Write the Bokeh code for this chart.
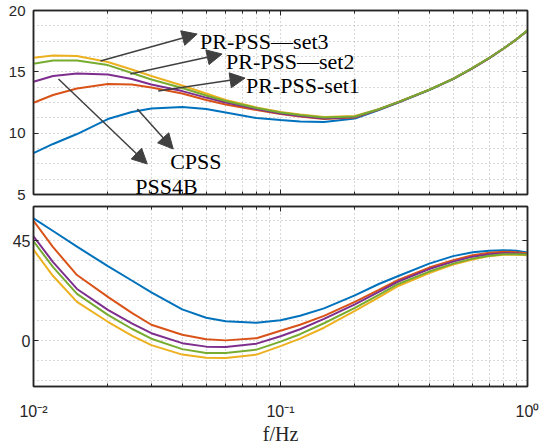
from bokeh.plotting import figure
from bokeh.layouts import column
from bokeh.models import FixedTicker, LinearAxis, LogAxis, Range1d, Arrow, NormalHead, Label
from bokeh.embed import file_html
from bokeh.resources import INLINE

freq = [0.01, 0.012, 0.015, 0.02, 0.025, 0.03, 0.04, 0.05, 0.06, 0.08, 0.1, 0.12,
        0.15, 0.2, 0.25, 0.3, 0.4, 0.5, 0.6, 0.7, 0.8, 0.9, 1.0]

# top panel (gain)
mag_cpss = [8.38, 9.12, 9.93, 11.15, 11.72, 12.01, 12.13, 11.97, 11.68, 11.23, 11.07, 10.95,
            10.91, 11.19, 11.89, 12.5, 13.52, 14.41, 15.31, 16.12, 16.9, 17.63, 18.37]
mag_set1 = [12.48, 13.11, 13.64, 14.01, 13.97, 13.72, 13.23, 12.7, 12.33, 11.89, 11.56, 11.36,
            11.15, 11.28, 11.93, 12.52, 13.53, 14.42, 15.31, 16.12, 16.9, 17.63, 18.37]
mag_pss4b = [14.19, 14.66, 14.86, 14.78, 14.41, 13.97, 13.43, 12.9, 12.5, 11.97, 11.6, 11.4,
             11.19, 11.32, 11.93, 12.52, 13.53, 14.42, 15.31, 16.12, 16.9, 17.63, 18.37]
mag_set2 = [15.66, 15.92, 15.92, 15.55, 14.9, 14.37, 13.68, 13.07, 12.62, 12.05, 11.68, 11.48,
            11.28, 11.36, 11.95, 12.53, 13.54, 14.43, 15.32, 16.13, 16.9, 17.63, 18.38]
mag_set3 = [16.15, 16.33, 16.29, 15.8, 15.19, 14.66, 13.88, 13.23, 12.7, 12.09, 11.72, 11.52,
            11.32, 11.4, 11.96, 12.54, 13.55, 14.43, 15.32, 16.13, 16.9, 17.63, 18.38]

# bottom panel (phase)
ph_cpss = [54.97, 49.29, 42.23, 33.52, 27.04, 21.67, 14.08, 10.28, 8.71, 8.04, 9.16, 11.17,
           14.52, 20.33, 25.47, 29.05, 34.63, 37.99, 39.77, 40.44, 40.67, 40.44, 39.64]
ph_set1 = [53.85, 42.01, 29.5, 19.66, 12.51, 7.15, 2.68, 0.67, 0.13, 1.12, 4.47, 7.15,
           11.17, 17.43, 22.79, 27.26, 32.85, 36.2, 38.43, 39.55, 40.0, 39.77, 39.33]
ph_pss4b = [46.92, 35.31, 23.24, 13.85, 7.82, 3.35, -1.12, -2.68, -2.9, -1.34, 2.01, 5.14,
            9.83, 16.31, 21.9, 26.59, 32.18, 35.53, 37.76, 38.88, 39.33, 39.19, 38.88]
ph_set2 = [44.69, 33.07, 21.0, 11.62, 5.36, 0.89, -3.8, -5.5, -5.59, -4.02, -0.45, 2.9,
           7.82, 14.75, 20.56, 25.47, 31.06, 34.63, 36.87, 38.21, 38.88, 38.88, 38.75]
ph_set3 = [40.89, 29.05, 17.43, 8.49, 2.23, -2.01, -6.26, -7.73, -7.82, -6.26, -2.46, 0.89,
           5.81, 13.41, 19.44, 24.58, 30.39, 34.19, 36.42, 37.99, 38.66, 38.66, 38.43]

x_major = [0.01, 0.1, 1.0]
x_minor = [0.02, 0.03, 0.04, 0.05, 0.06, 0.07, 0.08, 0.09,
           0.2, 0.3, 0.4, 0.5, 0.6, 0.7, 0.8, 0.9]
x_labels = {0.01: "10\u207b\u00b2", 0.1: "10\u207b\u00b9", 1.0: "10\u2070"}
top_y_major = [5, 10, 15, 20]
top_y_minor = [6.25, 7.5, 8.75, 11.25, 12.5, 13.75, 16.25, 17.5, 18.75]
bot_y_major = [0, 45]
bot_y_minor = [-18, -9, 9, 18, 27, 36, 54]

colors = {"cpss": "#0072BD", "set1": "#D95319", "set3": "#EDB120",
          "pss4b": "#7E2F8E", "set2": "#77AC30"}

FRAME = "#262626"
GRID = "#b0b0b0"


def style(p, xt, yt, label_size, y_standoff):
    p.add_layout(LinearAxis(ticker=yt), "right")
    p.add_layout(LogAxis(ticker=xt), "above")
    p.xaxis.ticker = xt
    p.yaxis.ticker = yt
    p.outline_line_color = FRAME
    p.outline_line_width = 1.5
    for ax in p.axis:
        ax.axis_line_color = FRAME
        ax.axis_line_width = 1.5
        ax.major_tick_in = 5
        ax.major_tick_out = 0
        ax.minor_tick_out = 0
        ax.major_tick_line_color = FRAME
        ax.minor_tick_line_color = FRAME
        ax.major_label_text_font = "Liberation Sans"
        ax.major_label_text_color = FRAME
        ax.major_label_text_font_size = "1px"
        ax.major_label_text_alpha = 0
        ax.major_label_standoff = 0
    for ax in p.yaxis:
        ax.minor_tick_in = 0
    for ax in p.xaxis:
        ax.minor_tick_in = 3
    p.left[0].major_label_text_font_size = label_size
    p.left[0].major_label_text_alpha = 1
    p.left[0].major_label_standoff = y_standoff
    for g in (p.xgrid[0], p.ygrid[0]):
        g.grid_line_color = GRID
        g.grid_line_dash = "1 3"
        g.grid_line_width = 1
        g.minor_grid_line_color = GRID
        g.minor_grid_line_dash = "1 3"
        g.minor_grid_line_width = 1


# ---------- top figure ----------
p1 = figure(width=548, height=203, x_axis_type="log",
            x_range=Range1d(0.01, 1.0), y_range=Range1d(5, 20),
            output_backend="svg", toolbar_location=None,
            min_border_left=33, min_border_right=20, min_border_top=10, min_border_bottom=9)

xt1 = FixedTicker(ticks=x_major, minor_ticks=x_minor)
yt1 = FixedTicker(ticks=top_y_major, minor_ticks=top_y_minor)
style(p1, xt1, yt1, "15px", 8)

for key, ys in (("cpss", mag_cpss), ("set1", mag_set1), ("set3", mag_set3),
                ("pss4b", mag_pss4b), ("set2", mag_set2)):
    p1.line(freq, ys, line_color=colors[key], line_width=2)

ARROW = "#404040"


def add_arrow(p, xs, ys, xe, ye):
    p.add_layout(Arrow(end=NormalHead(size=15, fill_color=ARROW, line_color=ARROW),
                       x_start=xs, y_start=ys, x_end=xe, y_end=ye,
                       line_color=ARROW, line_width=1.5))


add_arrow(p1, 0.01866, 15.88, 0.04599, 18.08)   # set3
add_arrow(p1, 0.02465, 14.82, 0.05801, 16.45)   # set2
add_arrow(p1, 0.03199, 13.44, 0.07187, 14.49)   # set1
add_arrow(p1, 0.01262, 14.41, 0.02888, 7.49)    # PSS4B
add_arrow(p1, 0.02631, 11.97, 0.03678, 8.71)    # CPSS


def add_text(p, x, y, t):
    p.add_layout(Label(x=x, y=y, text=t, text_font="Liberation Serif",
                       text_font_size="22px", text_color="black",
                       text_baseline="alphabetic", text_align="left"))


add_text(p1, 0.04727, 17.51, "PR-PSS\u2014set3")
add_text(p1, 0.06022, 15.88, "PR-PSS\u2014set2")
add_text(p1, 0.07254, 13.92, "PR-PSS-set1")
add_text(p1, 0.03576, 7.69, "CPSS")
add_text(p1, 0.02583, 5.69, "PSS4B")

# ---------- bottom figure ----------
p2 = figure(width=548, height=244, x_axis_type="log",
            x_range=Range1d(0.01, 1.0), y_range=Range1d(-20.6, 60.3),
            output_backend="svg", toolbar_location=None,
            min_border_left=28, min_border_right=21, min_border_top=3, min_border_bottom=60)
xt2 = FixedTicker(ticks=x_major, minor_ticks=x_minor)
yt2 = FixedTicker(ticks=bot_y_major, minor_ticks=bot_y_minor)
style(p2, xt2, yt2, "16px", 3)
bx = p2.below[0]
bx.major_label_text_font_size = "16px"
bx.major_label_text_alpha = 1
bx.major_label_standoff = 16
bx.major_label_overrides = x_labels
bx.axis_label = "f/Hz"
bx.axis_label_text_font = "Liberation Serif"
bx.axis_label_text_font_style = "normal"
bx.axis_label_text_font_size = "20px"
bx.axis_label_text_color = FRAME
bx.axis_label_standoff = 0

for key, ys in (("cpss", ph_cpss), ("set1", ph_set1), ("set3", ph_set3),
                ("pss4b", ph_pss4b), ("set2", ph_set2)):
    p2.line(freq, ys, line_color=colors[key], line_width=2)

layout = column(p1, p2, spacing=0)
open("out.html", "w").write(file_html(layout, INLINE))
